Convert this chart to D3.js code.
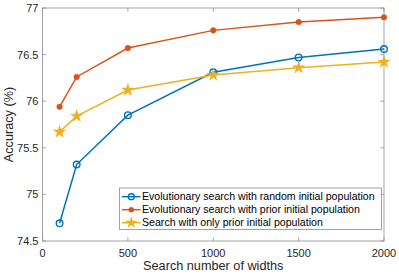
<!DOCTYPE html>
<html><head><meta charset="utf-8">
<script src="https://cdn.jsdelivr.net/npm/d3@7"></script>
<style>body{margin:0;background:#fff}svg{display:block}text{font-family:"Liberation Sans",Arial,Helvetica,sans-serif}</style>
</head><body><svg id="c" width="399" height="275"></svg>
<script>
const widths = [100, 200, 500, 1000, 1500, 2000];
const randomInit = [74.69, 75.32, 75.85, 76.31, 76.47, 76.56];
const priorInit = [75.94, 76.26, 76.57, 76.76, 76.85, 76.90];
const onlyPrior = [75.67, 75.84, 76.12, 76.28, 76.36, 76.42];
const seriesNames = ["Evolutionary search with random initial population","Evolutionary search with prior initial population","Search with only prior initial population"];
const xTicks = [0, 500, 1000, 1500, 2000];
const yTicks = [74.5, 75, 75.5, 76, 76.5, 77];

const colors = ["#0072BD", "#D95319", "#EDB120"];
const markers = ["circle", "dot", "star"];
const series = [randomInit, priorInit, onlyPrior];

const svg = d3.select("#c");
const L = 42.5, R = 384, T = 8, B = 241;
const x = d3.scaleLinear().domain([0, 2000]).range([L, R]);
const y = d3.scaleLinear().domain([74.5, 77]).range([B, T]);
const axisCol = "#262626";
const boxCol = "#8c8c8c";

svg.append("rect").attr("x", L).attr("y", T).attr("width", R - L).attr("height", B - T)
  .attr("fill", "none").attr("stroke", boxCol).attr("stroke-width", 0.8);

const tl = 3.5;
xTicks.forEach(t => {
  svg.append("line").attr("x1", x(t)).attr("x2", x(t)).attr("y1", B).attr("y2", B - tl).attr("stroke", boxCol).attr("stroke-width", 0.8);
  svg.append("line").attr("x1", x(t)).attr("x2", x(t)).attr("y1", T).attr("y2", T + tl).attr("stroke", boxCol).attr("stroke-width", 0.8);
  svg.append("text").attr("x", x(t)).attr("y", B + 15.5).attr("text-anchor", "middle")
    .attr("font-size", 11).attr("fill", axisCol).text(t);
});
yTicks.forEach(t => {
  svg.append("line").attr("x1", L).attr("x2", L + tl).attr("y1", y(t)).attr("y2", y(t)).attr("stroke", boxCol).attr("stroke-width", 0.8);
  svg.append("line").attr("x1", R).attr("x2", R - tl).attr("y1", y(t)).attr("y2", y(t)).attr("stroke", boxCol).attr("stroke-width", 0.8);
  svg.append("text").attr("x", L - 4).attr("y", y(t) + 4).attr("text-anchor", "end")
    .attr("font-size", 11).attr("fill", axisCol).text(t);
});

svg.append("text").attr("x", (L + R) / 2).attr("y", 270).attr("text-anchor", "middle")
  .attr("font-size", 12.7).attr("fill", axisCol).text("Search number of widths");
svg.append("text").attr("transform", `translate(12.5,${(T + B) / 2}) rotate(-90)`).attr("text-anchor", "middle")
  .attr("font-size", 12.7).attr("fill", axisCol).text("Accuracy (%)");

function drawMarker(g, type, cx, cy, col, s) {
  s = s || 1;
  if (type === "circle") {
    g.append("circle").attr("cx", cx).attr("cy", cy).attr("r", 3.3 * s).attr("fill", "none").attr("stroke", col).attr("stroke-width", 1.4);
  } else if (type === "dot") {
    g.append("circle").attr("cx", cx).attr("cy", cy).attr("r", 2.8 * s).attr("fill", col).attr("stroke", col).attr("stroke-width", 0.5);
  } else {
    g.append("path").attr("d", d3.symbol(d3.symbolStar, 46 * s * s)()).attr("transform", `translate(${cx},${cy})`)
      .attr("fill", col).attr("stroke", col).attr("stroke-width", 0.5);
  }
}

const line = d3.line().x((d, i) => x(widths[i])).y(d => y(d));
series.forEach((s, k) => {
  const g = svg.append("g");
  g.append("path").attr("d", line(s)).attr("fill", "none").attr("stroke", colors[k]).attr("stroke-width", 1.5);
  s.forEach((v, i) => drawMarker(g, markers[k], x(widths[i]), y(v), colors[k]));
});

const lx = 119.5, ly = 188, lw = 262, lh = 41.5;
svg.append("rect").attr("x", lx).attr("y", ly).attr("width", lw).attr("height", lh)
  .attr("fill", "#fff").attr("stroke", boxCol).attr("stroke-width", 0.8);
seriesNames.forEach((n, k) => {
  const ry = ly + 8.7 + k * 13;
  const g = svg.append("g");
  g.append("line").attr("x1", lx + 2.5).attr("x2", lx + 21).attr("y1", ry).attr("y2", ry).attr("stroke", colors[k]).attr("stroke-width", 1.5);
  drawMarker(g, markers[k], lx + 11.8, ry, colors[k], 0.9);
  g.append("text").attr("x", lx + 22.5).attr("y", ry + 3.7).attr("font-size", 10.6).attr("fill", "#000").text(n);
});
</script></body></html>
